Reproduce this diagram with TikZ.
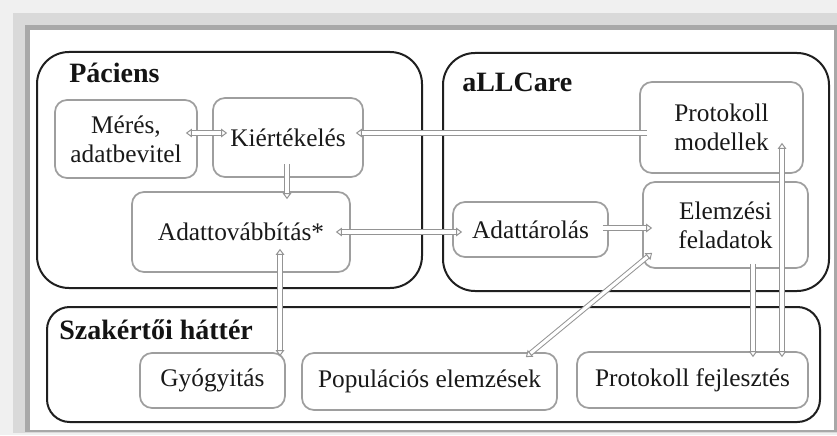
\documentclass[tikz,border=0pt]{standalone}
\usepackage{fontspec}
\setmainfont{Liberation Serif}
\usetikzlibrary{arrows.meta,calc}
\begin{document}
\begin{tikzpicture}[x=0.75pt,y=-0.75pt,
  outerbox/.style={draw=black!88, line width=1.5pt, rounded corners=24pt, inner sep=0pt},
  inbox/.style={draw=black!38, line width=1.3pt, rounded corners=9pt, inner sep=0pt,
    align=center, text=black!90, font=\fontsize{19}{22}\selectfont},
  title/.style={anchor=west, inner sep=0pt, text=black!92, font=\fontsize{21}{24}\selectfont\bfseries},
  conn/.style={draw=black!42, line width=0.75pt, double=white, double distance=2.4pt,
    >={Triangle[open, fill=white, length=4.5pt, width=6.5pt]}}
]
\useasboundingbox (0,0) rectangle (837,435);
% page frame
\fill[black!6] (0,0) rectangle (837,435);
\fill[black!15] (13,13) rectangle (837,433);
\fill[black!34] (25,25) rectangle (837,432);
\fill[white] (30,30) rectangle (834,430);

% outer groups
\node[outerbox, minimum width=288.75pt, minimum height=177pt] (paciens) at (229.5,170) {};
\node[outerbox, minimum width=289.5pt, minimum height=178.5pt] (allcare) at (636,172) {};
\node[outerbox, rounded corners=17pt, minimum width=579.75pt, minimum height=86.25pt] (szak) at (433.5,364.5) {};

\node[title] (tpac) at (69,73) {Páciens};
\node[title] (tall) at (462,82) {aLLCare};
\node[title] (tsza) at (59,330) {Szakértői háttér};

% inner boxes
\node[inbox, minimum width=106.5pt, minimum height=58.5pt] (meres) at (126,139) {Mérés,\\adatbevitel};
\node[inbox, minimum width=112.5pt, minimum height=59.25pt] (kiert) at (288,137.5) {Kiértékelés};
\node[inbox, minimum width=163.5pt, minimum height=60pt] (adatt) at (241,232) {Adattovábbítás*};
\node[inbox, minimum width=122.25pt, minimum height=68.25pt] (protmod) at (721.5,127.5) {Protokoll\\modellek};
\node[inbox, minimum width=123.75pt, minimum height=64.5pt] (elem) at (725.5,225) {Elemzési\\feladatok};
\node[inbox, minimum width=116.25pt, minimum height=41.25pt] (adattar) at (530.5,229.5) {Adattárolás};
\node[inbox, minimum width=108.75pt, minimum height=41.25pt] (gyogy) at (212.5,380.5) {Gyógyitás};
\node[inbox, minimum width=191.25pt, minimum height=42.75pt] (popul) at (429.5,381.5) {Populációs elemzések};
\node[inbox, minimum width=173.25pt, minimum height=42pt] (protfej) at (692.5,380) {Protokoll fejlesztés};

% connectors
\draw[conn,<->] ($(meres.east)+(-12,-6)$) -- ($(kiert.west)+(15,-4.5)$);
\draw[conn,->] ($(protmod.west)+(8,5.5)$) -- ($(kiert.east)+(-8,-4.5)$);
\draw[conn,->] ($(kiert.south)+(-1,-14)$) -- ($(adatt.north)+(46,8)$);
\draw[conn,<->] ($(adatt.east)+(-15,0)$) -- ($(adattar.west)+(10,2.5)$);
\draw[conn,->] ($(adattar.east)+(-6,-1.5)$) -- ($(elem.west)+(10,3)$);
\draw[conn,<->] ($(adatt.south)+(39,-24)$) -- ($(gyogy.north)+(67.5,4)$);
\draw[conn,<->] ($(elem.south west)+(10,-16)$) -- ($(popul.north east)+(-32,5)$);
\draw[conn,->] ($(elem.south)+(27.5,-5)$) -- ($(protfej.north)+(60.5,6)$);
\draw[conn,<->] ($(protfej.north)+(89.5,6)$) -- ($(protmod.south)+(60.5,-31)$);
\end{tikzpicture}
\end{document}
